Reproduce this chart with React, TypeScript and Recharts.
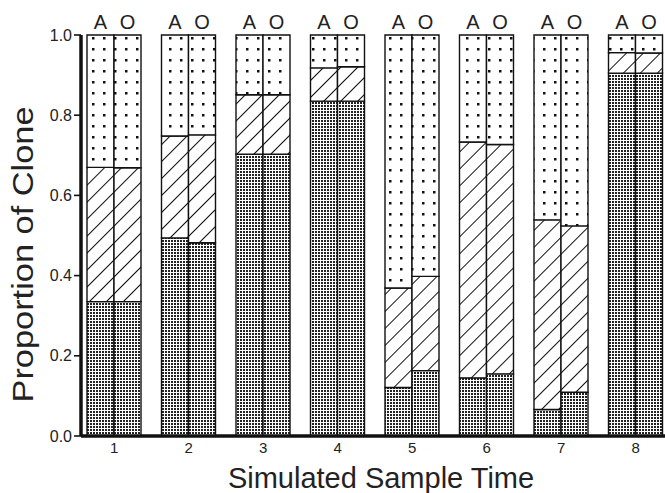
import { BarChart, Bar, XAxis, YAxis, Label } from "recharts"

// simulated sample times (x categories)
const times = ["1", "2", "3", "4", "5", "6", "7", "8"]

// proportion of each clone, bar "A"
const aClone1 = [0.335, 0.494, 0.703, 0.835, 0.121, 0.145, 0.066, 0.905]
const aClone2 = [0.335, 0.254, 0.148, 0.083, 0.248, 0.588, 0.473, 0.051]
const aClone3 = [0.33, 0.252, 0.149, 0.082, 0.631, 0.267, 0.461, 0.044]

// proportion of each clone, bar "O"
const oClone1 = [0.335, 0.482, 0.703, 0.835, 0.163, 0.155, 0.109, 0.905]
const oClone2 = [0.334, 0.269, 0.148, 0.086, 0.235, 0.572, 0.415, 0.05]
const oClone3 = [0.331, 0.249, 0.149, 0.079, 0.602, 0.273, 0.476, 0.045]

const yTicks = [0, 0.2, 0.4, 0.6, 0.8, 1.0]

const data = times.map((t, i) => ({
  time: t,
  a1: aClone1[i],
  a2: aClone2[i],
  a3: aClone3[i],
  o1: oClone1[i],
  o2: oClone2[i],
  o3: oClone3[i],
}))

const ink = "#111"
const textInk = "#222"
const font = "'Liberation Sans', Arial, Helvetica, sans-serif"

function pairLabel(letter: string) {
  return (p: any) => {
    const vb = p.viewBox ?? p
    return (
      <text
        x={vb.x + vb.width / 2}
        y={vb.y - 6}
        textAnchor="middle"
        fontSize={20}
        fill={textInk}
        fontFamily={font}
      >
        {letter}
      </text>
    )
  }
}

export default function App() {
  const barStyle = { stroke: ink, strokeWidth: 1.4, isAnimationActive: false }

  return (
    <div
      style={{
        position: "absolute",
        left: 0,
        top: 0,
        width: 665,
        height: 493,
        overflow: "hidden",
        background: "#fff",
        fontFamily: font,
      }}
    >
      <BarChart
        width={673}
        height={493}
        data={data}
        margin={{ top: 35, right: 0, bottom: 0, left: 0 }}
        barGap={0}
        barSize={27}
      >
        <defs>
          <pattern id="dense" width={3} height={3} patternUnits="userSpaceOnUse">
            <rect width={3} height={3} fill="#fff" />
            <rect width={2} height={2} fill="#222" />
          </pattern>
          <pattern
            id="hatch"
            width={12}
            height={12}
            patternUnits="userSpaceOnUse"
            patternTransform="rotate(45)"
          >
            <rect width={12} height={12} fill="#fff" />
            <line x1={0} y1={0} x2={0} y2={12} stroke="#111" strokeWidth={2} />
          </pattern>
          <pattern id="sparse" width={11} height={11} patternUnits="userSpaceOnUse">
            <rect width={11} height={11} fill="#fff" />
            <rect x={4} y={4} width={2.5} height={2.5} fill="#111" />
          </pattern>
        </defs>

        <XAxis
          dataKey="time"
          height={57}
          padding={{ left: -4, right: 0 }}
          tickLine={false}
          tickSize={4}
          axisLine={{ stroke: ink, strokeWidth: 3.5 }}
          tick={{ fontSize: 15, fill: textInk, fontFamily: font }}
        >
          <Label
            content={({ viewBox }: any) => (
              <text
                x={viewBox.x + viewBox.width / 2 + 4}
                y={viewBox.y + 52}
                textAnchor="middle"
                fontSize={29}
                fill={textInk}
                fontFamily={font}
              >
                Simulated Sample Time
              </text>
            )}
          />
        </XAxis>
        <YAxis
          width={81}
          domain={[0, 1]}
          ticks={yTicks}
          interval={0}
          tickFormatter={(v: number) => v.toFixed(1)}
          tickSize={7}
          axisLine={{ stroke: ink, strokeWidth: 3.5 }}
          tickLine={{ stroke: ink, strokeWidth: 1.6 }}
          tick={{ fontSize: 16, fill: textInk, fontFamily: font }}
        >
          <Label
            content={({ viewBox }: any) => {
              const cx = 33
              const cy = viewBox.y + viewBox.height / 2 + 19
              return (
                <text
                  x={cx}
                  y={cy}
                  transform={`rotate(-90, ${cx}, ${cy})`}
                  textAnchor="middle"
                  fontSize={29}
                  textLength={296}
                  lengthAdjust="spacingAndGlyphs"
                  fill={textInk}
                  fontFamily={font}
                >
                  Proportion of Clone
                </text>
              )
            }}
          />
        </YAxis>

        <Bar dataKey="a1" stackId="A" fill="url(#dense)" {...barStyle} />
        <Bar dataKey="a2" stackId="A" fill="url(#hatch)" {...barStyle} />
        <Bar dataKey="a3" stackId="A" fill="url(#sparse)" {...barStyle} label={pairLabel("A")} />
        <Bar dataKey="o1" stackId="O" fill="url(#dense)" {...barStyle} />
        <Bar dataKey="o2" stackId="O" fill="url(#hatch)" {...barStyle} />
        <Bar dataKey="o3" stackId="O" fill="url(#sparse)" {...barStyle} label={pairLabel("O")} />
      </BarChart>
    </div>
  )
}
